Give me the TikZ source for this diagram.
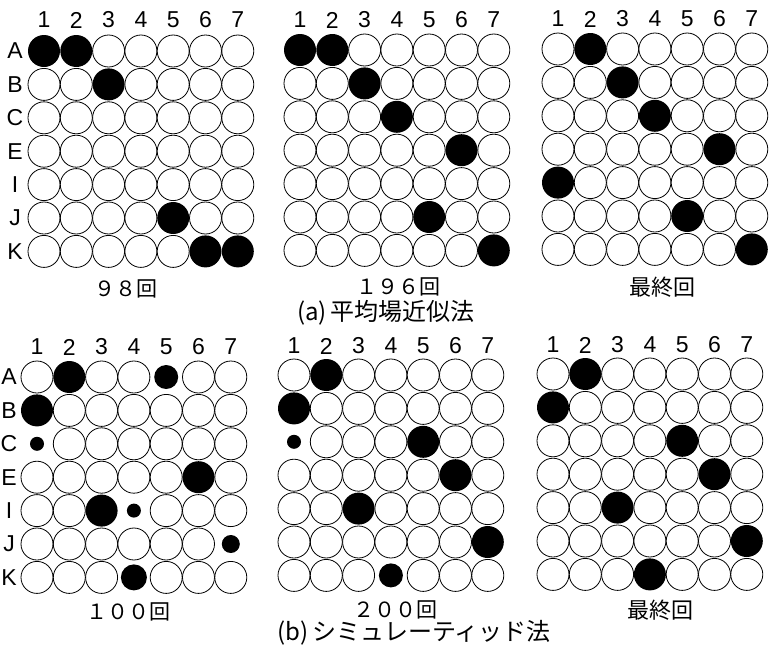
\documentclass[tikz,border=0pt]{standalone}
\usepackage{fontspec}
\setmainfont{Liberation Sans}
\newfontfamily\jpfont{Noto Sans CJK JP}
\newfontfamily\labfont{Liberation Sans}
\tikzset{
  cellw/.style={draw=black,line width=0.8pt,fill=white},
  cellb/.style={fill=black},
  lab/.style={font=\labfont\fontsize{23}{23}\selectfont,inner sep=0pt,anchor=center},
  captxt/.style={font=\jpfont\fontsize{21}{21}\selectfont,inner sep=0pt,anchor=center},
  bigcaptxt/.style={font=\jpfont\fontsize{22}{22}\selectfont,inner sep=0pt,anchor=center},
  titletxt/.style={font=\jpfont\fontsize{24}{24}\selectfont,inner sep=0pt,anchor=center}
}
\newcommand\gboard[3]{%
  \foreach \rowlist [count=\r] in {#3} {
    \foreach \s [count=\c] in \rowlist {
      \ifnum\s=0
        \draw[cellw] ({#1+32.3*(\c-1)},{#2+33.4*(\r-1)}) circle[radius=16];
      \else
        \fill[cellb] ({#1+32.3*(\c-1)},{#2+33.4*(\r-1)}) circle[radius=\s];
      \fi
    }
  }
}
\newcommand\collabels[3]{% #1 x col1, #2 y, #3 prefix
  \foreach \c in {1,...,7} {
    \node[lab] (#3c\c) at ({#1+32.3*(\c-1)},#2) {\c};
  }
}
\newcommand\rowlabels[3]{%
  \foreach \t [count=\r] in {A,B,C,E,I,J,K} {
    \node[lab] (#3r\r) at (#1,{#2+33.4*(\r-1)}) {\t};
  }
}
\begin{document}
\begin{tikzpicture}[x=1pt,y=-1pt]
\useasboundingbox (0,0) rectangle (769,646);
\fill[white] (0,0) rectangle (769,646);
% (a) top row
\gboard{44}{51}{{16,16,0,0,0,0,0},{0,0,16,0,0,0,0},{0,0,0,0,0,0,0},{0,0,0,0,0,0,0},{0,0,0,0,0,0,0},{0,0,0,0,16,0,0},{0,0,0,0,0,16,16}}
\collabels{44}{20}{ga}
\rowlabels{15}{51}{ga}
\node[captxt] (capa1) at (126,289) {９８回};

\gboard{300}{50}{{16,16,0,0,0,0,0},{0,0,16,0,0,0,0},{0,0,0,16,0,0,0},{0,0,0,0,0,16,0},{0,0,0,0,0,0,0},{0,0,0,0,16,0,0},{0,0,0,0,0,0,16}}
\collabels{300}{20}{gb}
\node[captxt] (capa2) at (398,287) {１９６回};

\gboard{558}{49}{{0,16,0,0,0,0,0},{0,0,16,0,0,0,0},{0,0,0,16,0,0,0},{0,0,0,0,0,16,0},{16,0,0,0,0,0,0},{0,0,0,0,16,0,0},{0,0,0,0,0,0,16}}
\collabels{558}{19}{gc}
\node[bigcaptxt] (capa3) at (662,287) {最終回};

\node[titletxt] (tita) at (386,313) {(a)\,平均場近似法};

% (b) bottom row
\gboard{37}{377}{{0,16,0,0,12,0,0},{16,0,0,0,0,0,0},{7,0,0,0,0,0,0},{0,0,0,0,0,16,0},{0,0,16,7,0,0,0},{0,0,0,0,0,0,9},{0,0,0,13,0,0,0}}
\collabels{37}{347}{gd}
\rowlabels{9}{377}{gd}
\node[captxt] (capb1) at (128,612) {１００回};

\gboard{294}{375}{{0,16,0,0,0,0,0},{16,0,0,0,0,0,0},{7,0,0,0,16,0,0},{0,0,0,0,0,16,0},{0,0,16,0,0,0,0},{0,0,0,0,0,0,16},{0,0,0,12,0,0,0}}
\collabels{294}{346}{ge}
\node[captxt] (capb2) at (395,610) {２００回};

\gboard{553}{374}{{0,16,0,0,0,0,0},{16,0,0,0,0,0,0},{0,0,0,0,16,0,0},{0,0,0,0,0,16,0},{0,0,16,0,0,0,0},{0,0,0,0,0,0,16},{0,0,0,16,0,0,0}}
\collabels{553}{345}{gf}
\node[bigcaptxt] (capb3) at (660,610) {最終回};

\node[titletxt] (titb) at (414,633) {(b)\,シミュレーティッド法};
\end{tikzpicture}
\end{document}
